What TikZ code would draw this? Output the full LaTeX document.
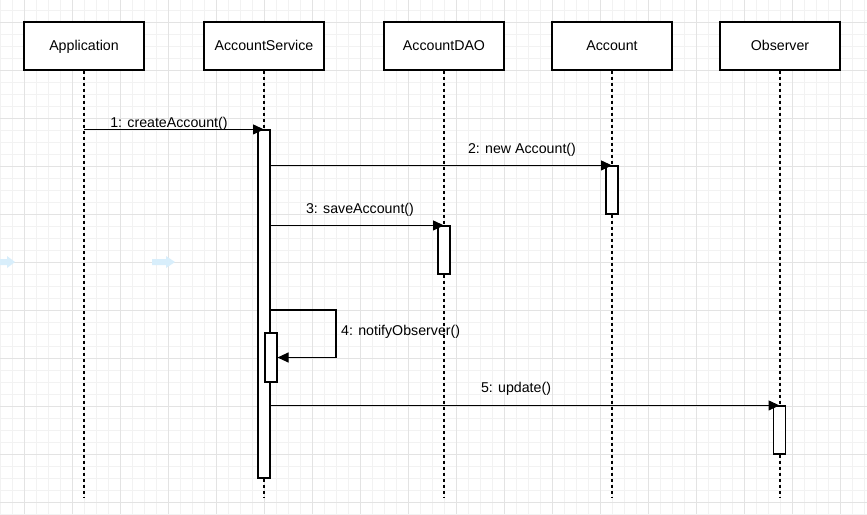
\documentclass[tikz,border=0pt]{standalone}
\usepackage{fontspec}
\setmainfont{Liberation Sans}
\usetikzlibrary{arrows.meta}
\definecolor{gridminor}{HTML}{F2F2F2}
\definecolor{gridmajor}{HTML}{E3E3E3}
\definecolor{hintblue}{HTML}{D8EEFB}
\tikzset{
  actor/.style={draw=black, line width=1.1pt, fill=white, minimum width=120pt, minimum height=48pt, inner sep=0pt, text height=11pt, text depth=3pt, font=\fontsize{14.2}{17}\selectfont},
  lifeline/.style={draw=black, line width=1.1pt, dash pattern=on 3pt off 3pt},
  actbar/.style={draw=black, line width=1.1pt, fill=white, minimum width=12pt, inner sep=0pt},
  msg/.style={draw=black, line width=1.1pt, -{Triangle[length=11pt,width=10pt]}},
  msglabel/.style={inner sep=0pt, text height=11pt, text depth=3pt, font=\fontsize{14.2}{17}\selectfont},
}
\begin{document}
\begin{tikzpicture}[x=1pt, y=-1pt]
\useasboundingbox (0,0) rectangle (867,514);
\fill[white] (0,0) rectangle (867,514);
% grid
\foreach \gx in {0,12,...,864} {\draw[gridminor, line width=1pt] (\gx,0) -- (\gx,514);}
\foreach \gy in {10,22,...,514} {\draw[gridminor, line width=1pt] (0,\gy) -- (867,\gy);}
\foreach \gx in {24,72,...,864} {\draw[gridmajor, line width=1pt] (\gx,0) -- (\gx,514);}
\foreach \gy in {22,70,...,514} {\draw[gridmajor, line width=1pt] (0,\gy) -- (867,\gy);}
% faint hint arrows
\fill[hintblue] (0,259) -- (7,259) -- (7,256) -- (15,262) -- (7,268) -- (7,265) -- (0,265) -- cycle;
\fill[hintblue] (152,259) -- (166,259) -- (166,256) -- (175,262) -- (166,268) -- (166,265) -- (152,265) -- cycle;
% actors
\node[actor] (app) at (84,46) {Application};
\node[actor] (svc) at (264,46) {AccountService};
\node[actor] (dao) at (444,46) {AccountDAO};
\node[actor] (acc) at (612,46) {Account};
\node[actor] (obs) at (780,46) {Observer};
% lifeline ends
\coordinate (append) at (84,498);
\coordinate (svcend) at (264,498);
\coordinate (daoend) at (444,498);
\coordinate (accend) at (612,498);
\coordinate (obsend) at (780,498);
\draw[lifeline] (app.south) -- (append);
\draw[lifeline] (svc.south) -- (svcend);
\draw[lifeline] (dao.south) -- (daoend);
\draw[lifeline] (acc.south) -- (accend);
\draw[lifeline] (obs.south) -- (obsend);
% activation bars
\node[actbar, minimum height=348pt] (svcbar) at (264,304) {};
\node[actbar, minimum height=48pt] (accbar) at (612,190) {};
\node[actbar, minimum height=48pt] (daobar) at (444,250) {};
\node[actbar, minimum height=49pt] (selfbar) at (271,357.5) {};
\node[actbar, minimum height=48pt] (obsbar) at (779.5,430) {};
% messages
\draw[msg] (app |- svcbar.north) -- (svcbar.north);
\draw[msg] (svcbar.east |- accbar.north) -- (accbar.north);
\draw[msg] (svcbar.east |- daobar.north) -- (daobar.north);
\coordinate (s4) at (270,310);
\draw[msg] (s4) -- ++(66,0) |- (selfbar.east);
\draw[msg] (svcbar.east |- obsbar.north) -- (obsbar.north);
% labels
\node[msglabel] (l1) at (169,123) {1: createAccount()};
\node[msglabel] (l2) at (522,149) {2: new Account()};
\node[msglabel] (l3) at (360,209) {3: saveAccount()};
\node[msglabel, anchor=west] (l4) at (341,331) {4: notifyObserver()};
\node[msglabel] (l5) at (516,388) {5: update()};
\end{tikzpicture}
\end{document}
